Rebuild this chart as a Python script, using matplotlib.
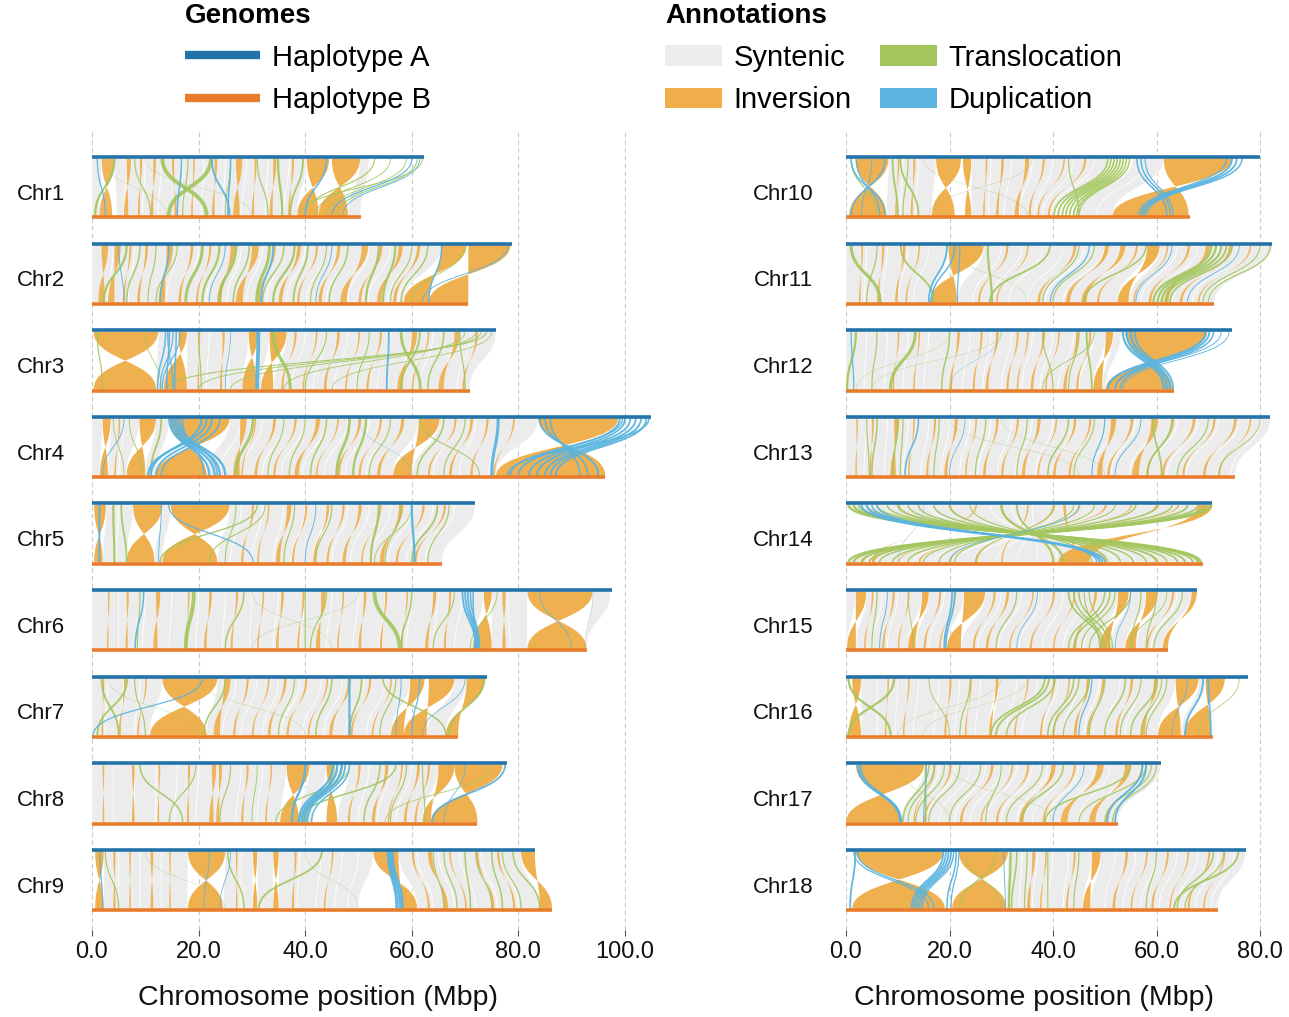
import matplotlib
matplotlib.use("Agg")
import matplotlib.pyplot as plt
from matplotlib.path import Path
from matplotlib.patches import PathPatch, Patch
from matplotlib.lines import Line2D

plt.rcParams['font.family'] = ['Liberation Sans', 'DejaVu Sans']

# ---------------- data (Mbp) ----------------
CHROMS = ["Chr1", "Chr2", "Chr3", "Chr4", "Chr5", "Chr6", "Chr7", "Chr8", "Chr9",
          "Chr10", "Chr11", "Chr12", "Chr13", "Chr14", "Chr15", "Chr16", "Chr17", "Chr18"]
LEN_A = [62.3, 78.8, 75.8, 104.8, 71.9, 97.5, 74.1, 77.9, 83.1,
         80.0, 82.4, 74.5, 82.0, 70.8, 67.8, 77.7, 60.9, 77.2]
LEN_B = [50.4, 70.6, 70.9, 96.3, 65.7, 92.8, 68.7, 72.3, 86.3,
         66.5, 71.2, 63.4, 75.2, 69.0, 62.2, 70.9, 52.6, 71.8]
LEFT_PANEL = CHROMS[:9]
RIGHT_PANEL = CHROMS[9:]
TICKS_LEFT = [0, 20, 40, 60, 80, 100]
TICKS_RIGHT = [0, 20, 40, 60, 80]

# syntenic anchor chains: (chrom, [(posA, posB), ...])
SYNTENY = [
    ("Chr1", [(0, 0), (1.8, 1.4)]),
    ("Chr1", [(4.2, 4.6), (6.5, 6.0), (10, 9.5), (13, 12.5), (17, 17), (21, 20.5), (25, 24.5),
              (29, 28), (33, 32.5), (37, 36), (40.3, 38.5)]),
    ("Chr1", [(50.3, 48), (52, 50.4)]),
    ("Chr2", [(0, 0), (4, 3), (8, 6.8), (12, 10.5), (16, 14), (20, 17.8), (24, 21.5), (28, 25.3),
              (32, 29), (36, 32.8), (40, 36.5), (44, 40.3), (48, 44), (52, 48), (56, 51.8),
              (60, 55.5), (63, 57.5), (65.6, 58.5)]),
    ("Chr3", [(12.4, 12.0), (16.2, 13.5)]),
    ("Chr3", [(17.8, 17.8), (22, 21.5), (26, 25.5), (29.4, 28.2)]),
    ("Chr3", [(31.2, 31), (33.3, 31.7)]),
    ("Chr3", [(36.5, 34), (40, 37.5), (44, 41.5), (48, 45.5), (52, 49.5), (56, 53.5), (60, 57.5),
              (64, 61.5), (68, 65.5), (71, 68.5), (75.8, 70.9)]),
    ("Chr4", [(0, 0), (2, 1.5)]),
    ("Chr4", [(3.5, 3), (6, 5), (8.9, 6.5)]),
    ("Chr4", [(12, 10), (14.5, 12)]),
    ("Chr4", [(25.8, 21.5), (28, 24), (32, 28), (36, 32), (40, 35.5), (44, 39.5), (48, 43.5),
              (52, 47.5), (56, 51.5), (61.3, 56.5)]),
    ("Chr4", [(65.2, 60), (68, 64), (72, 69), (76.2, 74.5), (83.7, 75.8)]),
    ("Chr5", [(2.6, 2.0), (5, 4.5), (7.7, 6.5)]),
    ("Chr5", [(13.2, 11.7), (14.8, 13.2)]),
    ("Chr5", [(25.8, 23.5), (28, 26), (32, 30), (36, 34), (40, 37.5), (44, 41.5), (48, 45),
              (52, 48.5), (56, 52), (60, 55.5), (64, 59), (68, 62.5), (71.9, 65.7)]),
    ("Chr6", [(0, 0), (5, 5), (10, 9.5), (15, 14.5), (20, 19.5), (25, 24.5), (30, 29.5), (35, 34),
              (40, 39), (45, 44), (50, 49), (55, 54), (60, 59), (65, 64), (69.5, 68), (73.5, 71.5)]),
    ("Chr6", [(75, 75), (78, 78.5), (81.7, 81.7)]),
    ("Chr6", [(93.9, 92.6), (97.3, 92.8)]),
    ("Chr7", [(0, 0), (3, 2.5), (6, 5), (9, 8), (13.2, 10.9)]),
    ("Chr7", [(23.5, 21.5), (27, 24.5), (31, 28), (35, 32), (39, 35.5), (43, 39.5), (47, 43.5),
              (51, 47.5), (55, 51.5), (59.7, 56.1)]),
    ("Chr7", [(68, 62.8), (70.3, 66.4)]),
    ("Chr8", [(0, 0), (4, 4), (8, 8), (12, 12), (16, 15.5), (20, 19.5), (24, 23.5), (28, 27),
              (32, 31), (36.5, 35.3)]),
    ("Chr8", [(40.8, 38.8), (44, 41.2)]),
    ("Chr8", [(48.3, 46), (52, 50), (56, 53.5), (60, 57), (65, 62)]),
    ("Chr9", [(2.2, 2.2), (5, 5), (9, 9), (13, 13), (18, 18)]),
    ("Chr9", [(25, 24.6), (28, 28), (30.2, 30.2)]),
    ("Chr9", [(31, 31), (34, 34)]),
    ("Chr9", [(35, 35), (39, 38.5), (43, 42), (47, 45.5), (50, 48), (52.8, 50)]),
    ("Chr9", [(57.5, 61), (61, 64), (65, 68), (69, 72), (73, 76), (77, 80), (80.5, 84)]),
    ("Chr10", [(8.2, 7.8), (11, 10.5), (14, 13.5), (17.4, 16.6)]),
    ("Chr10", [(24.2, 24.2), (28, 27.5), (32, 30.5), (36, 33.5), (40, 36.5), (44, 38),
               (48, 39.5), (50.6, 40.2)]),
    ("Chr10", [(55.4, 45), (58, 48.5), (61.4, 51.5)]),
    ("Chr11", [(0, 0), (4, 3.5), (8, 7), (12, 10), (16, 13), (19.8, 16.2)]),
    ("Chr11", [(26.6, 21.4), (30, 24.5), (34, 28), (38, 31.5), (42, 35), (46, 38.5), (50, 42),
               (54, 46), (58.2, 52.5)]),
    ("Chr11", [(60.6, 54.6), (64, 57), (68, 60), (72, 63), (76, 67), (80, 70), (82.4, 71.2)]),
    ("Chr12", [(0, 0), (4, 3.5), (8, 7.5), (12, 11), (16, 15), (20, 18.5), (24, 22.5), (28, 26.5),
               (32, 30), (36, 34), (40, 37.5), (44, 41), (48, 45), (50.2, 47.8)]),
    ("Chr12", [(51.6, 49.5), (53.2, 50.2)]),
    ("Chr13", [(0, 0), (4, 3.5), (8, 7.4), (12, 11), (16, 14.5), (20, 18.4), (24, 22), (28, 25.5),
               (32, 29.3), (36, 32.8), (40, 36.6), (44, 40.1), (48, 43.9), (52, 47.4), (56, 51.2),
               (60, 54.7), (64, 58.5), (68, 62), (72, 65.8), (76, 69.3), (80, 74.4), (82, 75.2)]),
    ("Chr14", [(0, 69), (4, 66.5), (8, 63.5), (12, 60), (16, 56), (20, 52), (24, 48.5), (28, 45),
               (32, 41), (36, 37), (40, 33), (44, 29), (48, 25), (52, 21), (56, 17), (60, 13),
               (64, 9), (68, 4), (70.8, 0)]),
    ("Chr15", [(0, 0), (1.9, 0.2)]),
    ("Chr15", [(3.9, 1.9), (7, 5), (10, 8), (14.7, 12)]),
    ("Chr15", [(16, 13.4), (19, 16), (22.8, 19.5)]),
    ("Chr15", [(26.9, 22.2), (30, 25.5), (34, 29.5), (38, 33.5), (42, 38), (46, 42), (50, 46),
               (52.6, 49)]),
    ("Chr15", [(54.6, 51), (58, 54)]),
    ("Chr15", [(60.3, 56), (64, 59), (66.8, 61.2)]),
    ("Chr16", [(2.9, 2.9), (6, 6), (10, 9.5), (14, 13), (18, 17), (22, 21), (26, 25), (28.9, 27.6)]),
    ("Chr16", [(29.5, 28.2), (33, 31), (37, 34), (41, 38), (45, 42), (49, 46), (53, 50), (57, 54),
               (61, 58), (63.7, 60.3)]),
    ("Chr16", [(68.1, 64.7), (69.5, 65.4)]),
    ("Chr17", [(15.1, 10.7), (18, 13), (21, 15.5), (24, 18), (27, 21), (30, 24), (33, 27), (36, 30),
               (39, 33), (42, 36), (45, 39), (48, 42), (51, 45), (54, 47.5), (57, 50), (60.9, 52.6)]),
    ("Chr18", [(31.3, 31), (34, 33.5), (37, 36), (40, 39), (43, 42), (47.5, 45.8)]),
    ("Chr18", [(49.2, 47.2), (52, 50), (56, 53.5), (60, 57), (64, 60.5), (68, 64), (72, 67.5),
               (75, 70.5), (77.2, 71.8)]),
]

# inversions: (chrom, startA, endA, startB, endB)
INVERSIONS = [
    ("Chr1", 40.3, 44.5, 38.5, 42.5), ("Chr1", 45.0, 50.3, 42.5, 48.0),
    ("Chr2", 65.6, 70.3, 58.5, 63.2), ("Chr2", 70.6, 78.5, 63.2, 70.6),
    ("Chr3", 0.3, 12.4, 0.3, 12.0), ("Chr3", 16.2, 17.8, 13.5, 17.8),
    ("Chr3", 29.4, 31.2, 28.2, 31.0), ("Chr3", 33.3, 36.5, 31.7, 34.0),
    ("Chr4", 2.0, 3.5, 1.5, 3.0), ("Chr4", 8.9, 12.0, 6.5, 10.0), ("Chr4", 14.5, 25.8, 12.0, 21.5),
    ("Chr4", 61.3, 65.2, 56.5, 60.0), ("Chr4", 83.7, 98.7, 75.8, 96.3),
    ("Chr5", 0.4, 2.6, 0.4, 2.0), ("Chr5", 7.7, 13.2, 6.5, 11.7), ("Chr5", 14.8, 25.8, 13.2, 23.5),
    ("Chr6", 73.5, 75.0, 71.5, 75.0), ("Chr6", 81.7, 93.9, 81.7, 92.8),
    ("Chr7", 13.2, 23.5, 10.9, 21.5), ("Chr7", 59.7, 62.4, 56.1, 58.5),
    ("Chr7", 63.2, 68.0, 58.5, 62.8), ("Chr7", 70.3, 73.8, 66.4, 68.7),
    ("Chr8", 36.5, 40.8, 35.3, 38.8), ("Chr8", 44.0, 45.2, 44.0, 46.0),
    ("Chr8", 65.0, 68.0, 62.0, 63.6), ("Chr8", 68.0, 77.0, 63.6, 72.3),
    ("Chr9", 0.6, 2.2, 0.6, 2.2), ("Chr9", 18.0, 25.0, 18.0, 24.6), ("Chr9", 30.2, 31.0, 30.2, 31.0),
    ("Chr9", 34.0, 35.0, 34.0, 35.0), ("Chr9", 52.8, 57.5, 58.0, 61.0), ("Chr9", 80.5, 83.1, 84.0, 86.3),
    ("Chr10", 1.8, 8.2, 0.6, 7.8), ("Chr10", 17.4, 22.2, 16.6, 21.0), ("Chr10", 22.6, 24.2, 23.0, 24.2),
    ("Chr10", 61.4, 74.6, 51.5, 66.2),
    ("Chr11", 19.8, 26.6, 16.2, 21.4), ("Chr11", 58.2, 60.6, 52.5, 54.6),
    ("Chr12", 50.2, 51.6, 47.8, 49.5), ("Chr12", 54.0, 69.8, 50.2, 63.0),
    ("Chr14", 68.0, 70.8, 41.0, 47.0),
    ("Chr15", 1.9, 3.9, 0.2, 1.9), ("Chr15", 14.7, 16.0, 12.0, 13.4), ("Chr15", 22.8, 26.9, 19.5, 22.2),
    ("Chr15", 52.6, 54.6, 49.0, 51.0), ("Chr15", 58.0, 60.3, 54.0, 56.0), ("Chr15", 66.8, 67.8, 61.2, 62.2),
    ("Chr16", 1.2, 2.9, 0.5, 2.9), ("Chr16", 63.7, 68.1, 60.3, 64.7), ("Chr16", 69.5, 73.2, 65.4, 70.5),
    ("Chr17", 1.9, 15.1, 0.0, 10.7),
    ("Chr18", 1.9, 18.8, 1.2, 19.1), ("Chr18", 21.8, 31.3, 20.5, 31.0), ("Chr18", 47.5, 49.2, 45.8, 47.2),
]

# small inversions: (chrom, posA, posB, width)
SMALL_INV = [
    ("Chr1", 1.8, 1.4, 2.4), ("Chr1", 6.5, 6.0, 0.8), ("Chr1", 9, 8.6, 0.4), ("Chr1", 11.5, 11, 0.5),
    ("Chr1", 15, 15.5, 0.4), ("Chr1", 19, 18.6, 0.3), ("Chr1", 23, 22.5, 0.5), ("Chr1", 27, 26.5, 1.2),
    ("Chr1", 30.5, 30, 0.4), ("Chr1", 34, 33.3, 0.6), ("Chr1", 37.5, 36.8, 0.4),
    ("Chr2", 1.8, 1.2, 1.2), ("Chr2", 4.2, 3.0, 1.2), ("Chr2", 7, 5.8, 0.4), ("Chr2", 10, 8.5, 0.5),
    ("Chr2", 14, 12.5, 1.2), ("Chr2", 18.5, 16.2, 0.5), ("Chr2", 22, 19.5, 0.4), ("Chr2", 26, 23.5, 0.8),
    ("Chr2", 30, 27, 1.3), ("Chr2", 34, 31, 0.5), ("Chr2", 38.5, 35, 0.7), ("Chr2", 42, 38.5, 0.4),
    ("Chr2", 46, 42.5, 0.6), ("Chr2", 50.6, 46.6, 1.2), ("Chr2", 54, 50, 0.5), ("Chr2", 57.5, 53.5, 0.8),
    ("Chr2", 61, 56.5, 0.6),
    ("Chr3", 20, 19.8, 0.3), ("Chr3", 24.5, 24, 0.4), ("Chr3", 38, 35.5, 0.4), ("Chr3", 42, 39.5, 0.3),
    ("Chr3", 46, 43.5, 0.5), ("Chr3", 50, 47.5, 0.3), ("Chr3", 54, 51.5, 0.4), ("Chr3", 60, 57.3, 1.0),
    ("Chr3", 63, 60, 0.3), ("Chr3", 68, 65, 1.0), ("Chr3", 72, 69.5, 0.4),
    ("Chr4", 5, 4.2, 0.3), ("Chr4", 27.8, 26.5, 1.2), ("Chr4", 30.5, 28, 0.3), ("Chr4", 34, 30.5, 0.5),
    ("Chr4", 38, 34, 0.4), ("Chr4", 42, 38, 0.8), ("Chr4", 46, 42, 0.3), ("Chr4", 50, 46, 0.5),
    ("Chr4", 54, 50, 0.4), ("Chr4", 58, 53.5, 0.6), ("Chr4", 68, 63, 0.4), ("Chr4", 71, 67, 0.5),
    ("Chr4", 74, 71, 0.4), ("Chr4", 79, 75.3, 0.3),
    ("Chr5", 30, 28, 0.4), ("Chr5", 33, 31, 0.3), ("Chr5", 36.6, 34.5, 0.8), ("Chr5", 40, 37.5, 0.4),
    ("Chr5", 44, 41.5, 0.5), ("Chr5", 47, 44, 0.4), ("Chr5", 50, 47, 0.6), ("Chr5", 54, 50.5, 0.3),
    ("Chr5", 57.6, 54, 0.8), ("Chr5", 62, 57, 0.4), ("Chr5", 66, 60.5, 0.4),
    ("Chr6", 3, 2.8, 0.3), ("Chr6", 6.5, 6.3, 0.4), ("Chr6", 12, 11.5, 0.8), ("Chr6", 18, 17.5, 0.3),
    ("Chr6", 22, 21, 0.5), ("Chr6", 27, 26, 0.4), ("Chr6", 32, 31, 0.3), ("Chr6", 35.5, 34.5, 0.5),
    ("Chr6", 39.5, 38.5, 0.4), ("Chr6", 43, 42, 0.8), ("Chr6", 47, 46, 0.3), ("Chr6", 51, 50, 0.5),
    ("Chr6", 55, 54, 0.4), ("Chr6", 59, 58, 0.3), ("Chr6", 64, 62.5, 0.6), ("Chr6", 67, 66, 0.4),
    ("Chr6", 77, 77, 0.6),
    ("Chr7", 24.8, 22.8, 1.2), ("Chr7", 29, 26.5, 0.4), ("Chr7", 33, 30, 0.3), ("Chr7", 36, 33, 0.5),
    ("Chr7", 40, 36.5, 0.4), ("Chr7", 44, 40.5, 0.3), ("Chr7", 48, 44.5, 0.6), ("Chr7", 52, 48.5, 0.4),
    ("Chr7", 56, 52.5, 0.3), ("Chr7", 2, 1.8, 0.3), ("Chr7", 6, 5, 0.4), ("Chr7", 10, 8.5, 0.3),
    ("Chr8", 2, 2, 0.3), ("Chr8", 7.5, 7.5, 0.5), ("Chr8", 12.5, 12.3, 0.3), ("Chr8", 18, 17.8, 0.4),
    ("Chr8", 22.5, 22, 0.8), ("Chr8", 23.8, 23.3, 0.6), ("Chr8", 29, 28, 0.4), ("Chr8", 33.5, 32.5, 0.3),
    ("Chr8", 50, 48, 0.4), ("Chr8", 55, 52.5, 0.6), ("Chr8", 58, 55.5, 0.3), ("Chr8", 61, 58.5, 0.5),
    ("Chr8", 63, 60.5, 0.4),
    ("Chr9", 4, 4, 0.4), ("Chr9", 7, 7, 0.3), ("Chr9", 11, 11, 0.5), ("Chr9", 14.5, 14.5, 0.3),
    ("Chr9", 27, 27, 0.3), ("Chr9", 38, 37.5, 0.4), ("Chr9", 45, 43.5, 0.3), ("Chr9", 60, 63, 0.4),
    ("Chr9", 63, 66, 0.8), ("Chr9", 67, 70, 0.3), ("Chr9", 72, 75, 0.5), ("Chr9", 76, 79, 0.4),
    ("Chr10", 10, 9.5, 0.3), ("Chr10", 13, 12.5, 0.4), ("Chr10", 27, 26.5, 0.3), ("Chr10", 30, 29, 0.5),
    ("Chr10", 34.6, 32.6, 0.8), ("Chr10", 38, 35.3, 0.4), ("Chr10", 42, 37, 0.3), ("Chr10", 46, 39, 0.4),
    ("Chr11", 3, 2.5, 0.3), ("Chr11", 7, 6, 0.4), ("Chr11", 11, 9.5, 0.5), ("Chr11", 14, 11.5, 0.3),
    ("Chr11", 31, 25.5, 0.4), ("Chr11", 35, 29, 0.3), ("Chr11", 44, 37, 0.5), ("Chr11", 50, 42.5, 0.8),
    ("Chr11", 53, 45.5, 1.0), ("Chr11", 56, 48.5, 0.4), ("Chr11", 62, 55.5, 0.3), ("Chr11", 66, 58.5, 0.5),
    ("Chr11", 69.5, 61.5, 0.8), ("Chr11", 74, 64.5, 0.5), ("Chr11", 78, 68, 0.3),
    ("Chr12", 21.5, 20, 0.5), ("Chr12", 26, 24.5, 0.4), ("Chr12", 29, 27, 0.5), ("Chr12", 33, 31, 0.4),
    ("Chr12", 35, 33, 0.3), ("Chr12", 38, 35.7, 0.5), ("Chr12", 41, 38.5, 0.3), ("Chr12", 44.5, 42, 0.6),
    ("Chr12", 47, 44.5, 0.4), ("Chr12", 10, 9, 0.3), ("Chr12", 14, 13, 0.3),
    ("Chr13", 2, 1.8, 0.3), ("Chr13", 5, 4.5, 0.4), ("Chr13", 9.3, 8.6, 1.0), ("Chr13", 13, 12, 0.3),
    ("Chr13", 17, 15.5, 0.4), ("Chr13", 21, 19, 0.6), ("Chr13", 25, 23, 0.3), ("Chr13", 29, 26.5, 0.5),
    ("Chr13", 33, 30, 0.4), ("Chr13", 37, 34, 0.6), ("Chr13", 40.5, 37, 0.3), ("Chr13", 44, 40, 0.5),
    ("Chr13", 47, 43, 0.4), ("Chr13", 51.2, 48.5, 1.0), ("Chr13", 55, 50.5, 0.5), ("Chr13", 59, 55.3, 1.3),
    ("Chr13", 63, 58, 0.4), ("Chr13", 67, 61, 0.5), ("Chr13", 71, 65, 0.4), ("Chr13", 75, 69, 0.5),
    ("Chr13", 78, 72, 0.3),
    ("Chr14", 30, 40, 0.3), ("Chr14", 35, 30, 0.3), ("Chr14", 40, 25, 0.4), ("Chr14", 45, 20, 0.3),
    ("Chr14", 50, 14, 0.4), ("Chr14", 55, 10, 0.3), ("Chr14", 25, 5, 0.3), ("Chr14", 20, 50, 0.3),
    ("Chr14", 10, 60, 0.4), ("Chr14", 60, 5, 0.5), ("Chr14", 64, 3, 0.4), ("Chr14", 42, 44, 0.5),
    ("Chr15", 5, 3.5, 0.3), ("Chr15", 9, 7, 0.4), ("Chr15", 12, 10, 0.3), ("Chr15", 18, 15, 0.4),
    ("Chr15", 21, 18, 0.3), ("Chr15", 28.5, 24.5, 0.4), ("Chr15", 31, 27, 0.5), ("Chr15", 36, 31.5, 0.3),
    ("Chr15", 40, 35.5, 0.4), ("Chr15", 44, 40, 0.3), ("Chr15", 48, 44, 0.5), ("Chr15", 63, 58, 0.4),
    ("Chr16", 28.9, 27.6, 0.6), ("Chr16", 46.5, 44, 0.6), ("Chr16", 49.5, 46.5, 0.4), ("Chr16", 55, 52, 0.5),
    ("Chr16", 59.5, 57, 0.8), ("Chr16", 8, 7.5, 0.3), ("Chr16", 12, 11, 0.3), ("Chr16", 20, 19, 0.4),
    ("Chr16", 24, 23, 0.3), ("Chr16", 35, 32.5, 0.3), ("Chr16", 40, 37.5, 0.4), ("Chr16", 43, 40, 0.3),
    ("Chr17", 17, 13, 0.3), ("Chr17", 20, 15, 0.4), ("Chr17", 28, 22, 0.5), ("Chr17", 32, 26, 0.3),
    ("Chr17", 35, 29, 0.4), ("Chr17", 39.7, 33.5, 0.8), ("Chr17", 44, 38, 0.4), ("Chr17", 48.5, 41.5, 1.3),
    ("Chr17", 53.9, 47, 1.2), ("Chr17", 57, 50, 0.4),
    ("Chr18", 36, 35, 0.6), ("Chr18", 38.5, 37.5, 0.3), ("Chr18", 44, 42.5, 0.4), ("Chr18", 54, 51.5, 0.5),
    ("Chr18", 58, 55, 0.3), ("Chr18", 62, 59, 0.4), ("Chr18", 66, 62.5, 0.3), ("Chr18", 70, 66, 0.4),
    ("Chr18", 73, 69, 0.3),
]

# translocations: (chrom, posA, posB, weight)
TRANSLOCATIONS = [
    ("Chr1", 4.2, 0.6, 1.5), ("Chr1", 13.2, 21.5, 2.5), ("Chr1", 22.3, 14.4, 2.5), ("Chr1", 8, 11, 0.8),
    ("Chr1", 18, 17, 0.8), ("Chr1", 26, 25, 0.7), ("Chr1", 34.9, 35.7, 1.5), ("Chr1", 39.6, 37.2, 1.2),
    ("Chr1", 31, 33, 0.8), ("Chr1", 53, 40, 0.8), ("Chr1", 56, 42, 0.6), ("Chr1", 59, 44, 0.6),
    ("Chr1", 61, 46, 0.7), ("Chr1", 62, 39, 0.6), ("Chr1", 2, 14, 0.4), ("Chr1", 10, 30, 0.4),
    ("Chr2", 6.5, 2.2, 1.5), ("Chr2", 9, 6.5, 1.0), ("Chr2", 12, 10.5, 0.8), ("Chr2", 20.7, 17.6, 2.0),
    ("Chr2", 23.9, 20.7, 1.5), ("Chr2", 27, 23.9, 1.8), ("Chr2", 29.5, 26.5, 1.0), ("Chr2", 33.3, 30.9, 2.0),
    ("Chr2", 36, 32, 1.0), ("Chr2", 38, 34, 1.5), ("Chr2", 40.5, 37.8, 1.2), ("Chr2", 44, 41, 0.8),
    ("Chr2", 48, 44.5, 1.0), ("Chr2", 53.8, 51.4, 1.5), ("Chr2", 56.9, 54.6, 1.5), ("Chr2", 60, 56, 0.8),
    ("Chr2", 63, 58, 1.0), ("Chr2", 70, 60, 0.6), ("Chr2", 16, 12, 0.8),
    ("Chr3", 34, 37.2, 2.0), ("Chr3", 58, 61.6, 1.8), ("Chr3", 61.5, 58, 1.2), ("Chr3", 74, 14, 0.7),
    ("Chr3", 73, 20, 0.6), ("Chr3", 72, 26, 0.6), ("Chr3", 70, 36, 0.6), ("Chr3", 75, 45, 0.5),
    ("Chr3", 44, 40, 0.8), ("Chr3", 52, 49.7, 0.8), ("Chr3", 66, 63, 1.0), ("Chr3", 20, 20.5, 0.8),
    ("Chr3", 10, 13, 0.5), ("Chr3", 1, 2, 0.8), ("Chr3", 69, 70, 0.8),
    ("Chr4", 30.2, 27, 1.8), ("Chr4", 48.3, 45.9, 1.8), ("Chr4", 51.4, 49, 1.5), ("Chr4", 36, 33, 0.8),
    ("Chr4", 40, 37, 0.8), ("Chr4", 44, 41, 1.0), ("Chr4", 56, 52, 0.8), ("Chr4", 61.5, 72.7, 0.7),
    ("Chr4", 66, 61, 1.0), ("Chr4", 70, 66, 0.8), ("Chr4", 4, 6, 0.6), ("Chr4", 7, 9.5, 0.6),
    ("Chr4", 13, 11, 1.2),
    ("Chr5", 4, 4.2, 1.5), ("Chr5", 5.5, 6.5, 1.2), ("Chr5", 31, 12.8, 0.9), ("Chr5", 32.5, 22, 0.7),
    ("Chr5", 53.8, 52.3, 1.5), ("Chr5", 64.8, 60, 1.2), ("Chr5", 38, 36, 0.8), ("Chr5", 45, 42, 0.8),
    ("Chr5", 58, 55, 0.8), ("Chr5", 60, 53, 0.6), ("Chr5", 27, 25, 0.7), ("Chr5", 67, 63, 0.8),
    ("Chr6", 19.1, 17.6, 2.5), ("Chr6", 53, 57.7, 2.5), ("Chr6", 9, 8.5, 0.8), ("Chr6", 28.5, 25, 1.0),
    ("Chr6", 40, 40, 0.8), ("Chr6", 44, 41, 0.8), ("Chr6", 60, 58, 1.0), ("Chr6", 68, 64, 0.8),
    ("Chr6", 30, 45, 0.4), ("Chr6", 50, 30, 0.4), ("Chr6", 76, 71, 0.6),
    ("Chr7", 1.8, 5, 1.2), ("Chr7", 6.6, 1.0, 1.2), ("Chr7", 8, 10, 0.8), ("Chr7", 25, 21, 1.0),
    ("Chr7", 38, 35, 0.8), ("Chr7", 50.6, 48.3, 1.2), ("Chr7", 54.6, 66.4, 1.0), ("Chr7", 73.5, 67, 1.2),
    ("Chr7", 45, 42, 1.0), ("Chr7", 57, 54, 0.8), ("Chr7", 3, 20, 0.4), ("Chr7", 20, 40, 0.4),
    ("Chr8", 57, 38.8, 1.0), ("Chr8", 48.3, 34.5, 0.8), ("Chr8", 9, 17, 1.0), ("Chr8", 19.5, 14.5, 0.8),
    ("Chr8", 26, 24, 0.8), ("Chr8", 31, 30, 0.6), ("Chr8", 46, 40, 1.0), ("Chr8", 47, 39.5, 1.0),
    ("Chr8", 45.5, 40.5, 0.8), ("Chr8", 54, 51, 1.0), ("Chr8", 59, 56, 0.8), ("Chr8", 75, 55, 0.5),
    ("Chr8", 62, 62.5, 0.8),
    ("Chr9", 43.1, 31.3, 1.2), ("Chr9", 25.5, 28.5, 1.0), ("Chr9", 2.5, 5, 0.8), ("Chr9", 64, 66, 0.8),
    ("Chr9", 70, 71, 1.0), ("Chr9", 72, 75, 0.8), ("Chr9", 75, 77, 1.0), ("Chr9", 77, 80.5, 0.8),
    ("Chr9", 79, 84, 1.0), ("Chr9", 10, 25, 0.4), ("Chr9", 40, 50, 0.4), ("Chr9", 66, 68.5, 0.8),
    ("Chr10", 50.6, 40.2, 1.2), ("Chr10", 51.2, 41, 1.2), ("Chr10", 51.8, 41.8, 1.2), ("Chr10", 52.4, 42.5, 1.2),
    ("Chr10", 53, 43.2, 1.2), ("Chr10", 53.6, 44, 1.2), ("Chr10", 54.2, 44.6, 1.0), ("Chr10", 54.8, 45, 1.0),
    ("Chr10", 9, 10, 1.2), ("Chr10", 10.5, 14, 1.2), ("Chr10", 12, 11, 0.8), ("Chr10", 1, 6, 0.8),
    ("Chr10", 43, 45, 0.8), ("Chr10", 15, 35, 0.4), ("Chr10", 36, 16, 0.4),
    ("Chr11", 1, 6.6, 2.0), ("Chr11", 10.6, 17, 1.2), ("Chr11", 27.4, 28.2, 1.5), ("Chr11", 39.4, 27.8, 1.2),
    ("Chr11", 58, 46, 1.0), ("Chr11", 70.6, 59.4, 1.5), ("Chr11", 71.5, 60.2, 1.5), ("Chr11", 72.5, 61, 1.5),
    ("Chr11", 73.5, 61.8, 1.2), ("Chr11", 74.6, 62.6, 1.2), ("Chr11", 82, 70, 0.8), ("Chr11", 80, 69, 0.8),
    ("Chr11", 45, 38, 0.8), ("Chr11", 48, 40, 0.8), ("Chr11", 20, 35, 0.4), ("Chr11", 6, 4, 0.8),
    ("Chr12", 1.9, 0.2, 1.5), ("Chr12", 13.4, 8.6, 2.0), ("Chr12", 20, 18.5, 1.0), ("Chr12", 46.5, 47.5, 1.2),
    ("Chr12", 38, 40, 0.8), ("Chr12", 45, 43, 0.8), ("Chr12", 20, 2, 0.4), ("Chr12", 30, 5, 0.4),
    ("Chr12", 6, 5, 0.8), ("Chr12", 48, 38, 0.6),
    ("Chr13", 4, 4.5, 0.8), ("Chr13", 6, 5, 1.0), ("Chr13", 10, 9, 1.0), ("Chr13", 11, 10.5, 0.8),
    ("Chr13", 18, 17, 0.8), ("Chr13", 27, 25, 0.8), ("Chr13", 35, 33, 0.8), ("Chr13", 43, 39, 1.0),
    ("Chr13", 48, 44, 0.8), ("Chr13", 59.3, 61, 1.2), ("Chr13", 63, 58.3, 1.2), ("Chr13", 70, 64, 0.8),
    ("Chr13", 80, 72, 0.6), ("Chr13", 30, 50, 0.4), ("Chr13", 20, 45, 0.4),
    ("Chr14", 0.5, 68.5, 1.5), ("Chr14", 1.5, 68, 1.5), ("Chr14", 2.5, 67, 1.2), ("Chr14", 4, 65.5, 1.2),
    ("Chr14", 6, 64, 1.2), ("Chr14", 8, 62, 1.0), ("Chr14", 10, 60, 1.2), ("Chr14", 12, 58, 1.0),
    ("Chr14", 14, 55.5, 1.0), ("Chr14", 17, 53, 1.0), ("Chr14", 20, 50.5, 1.0), ("Chr14", 24, 47.5, 0.8),
    ("Chr14", 70.5, 0.5, 1.5), ("Chr14", 69.5, 1.5, 1.5), ("Chr14", 68, 3, 1.2), ("Chr14", 66, 4.5, 1.2),
    ("Chr14", 63, 6.5, 1.0), ("Chr14", 60, 9, 1.0), ("Chr14", 56, 12, 1.0), ("Chr14", 52, 15, 0.8),
    ("Chr14", 48, 18, 0.8), ("Chr14", 44, 21, 0.8), ("Chr14", 40, 25, 0.6), ("Chr14", 30, 42, 1.5),
    ("Chr14", 33, 40, 1.2),
    ("Chr15", 43, 49.5, 1.2), ("Chr15", 44, 50, 1.0), ("Chr15", 45, 51, 1.0), ("Chr15", 46, 49, 0.8),
    ("Chr15", 47, 51.5, 0.8), ("Chr15", 50, 43, 1.0), ("Chr15", 51, 44, 1.0), ("Chr15", 52, 45.5, 0.8),
    ("Chr15", 55, 47, 0.8), ("Chr15", 6, 5, 0.8), ("Chr15", 12, 13, 0.6), ("Chr15", 33, 29, 0.8),
    ("Chr15", 57, 55, 0.8), ("Chr15", 60, 58, 0.8), ("Chr15", 62, 55, 0.6), ("Chr15", 65, 59.5, 0.8),
    ("Chr16", 9.3, 0.5, 1.5), ("Chr16", 0.5, 8.6, 1.5), ("Chr16", 38.4, 28, 1.2), ("Chr16", 39.2, 29, 1.2),
    ("Chr16", 40.4, 31, 1.0), ("Chr16", 44, 39, 1.0), ("Chr16", 45, 40, 1.0), ("Chr16", 47, 42, 0.8),
    ("Chr16", 50, 47, 1.0), ("Chr16", 54, 50, 1.0), ("Chr16", 57, 53, 0.8), ("Chr16", 60, 55, 1.0),
    ("Chr16", 61, 57, 0.8), ("Chr16", 62, 58, 0.8), ("Chr16", 16, 20, 0.6), ("Chr16", 24, 22, 0.8),
    ("Chr16", 30, 10, 0.4), ("Chr16", 35, 15, 0.4), ("Chr16", 76, 68, 0.5),
    ("Chr17", 15.4, 15.4, 1.2), ("Chr17", 16, 11, 1.0), ("Chr17", 17, 12, 0.8), ("Chr17", 19, 13.5, 0.8),
    ("Chr17", 22, 16, 0.8), ("Chr17", 26, 20, 0.8), ("Chr17", 30, 27, 0.8), ("Chr17", 38, 31, 0.8),
    ("Chr17", 42, 34, 1.0), ("Chr17", 55, 38.5, 1.0), ("Chr17", 58, 45, 0.8), ("Chr17", 59, 50, 0.8),
    ("Chr17", 60, 51.5, 0.8), ("Chr17", 20, 40, 0.4), ("Chr17", 10, 20, 0.4),
    ("Chr18", 31.8, 31.5, 1.5), ("Chr18", 33, 32, 1.0), ("Chr18", 35, 34.5, 0.8), ("Chr18", 39, 39, 0.8),
    ("Chr18", 75.8, 63.4, 1.2), ("Chr18", 71, 64, 1.0), ("Chr18", 73, 65.5, 0.8), ("Chr18", 60, 58, 0.8),
    ("Chr18", 45, 44, 0.8), ("Chr18", 23, 30, 0.6), ("Chr18", 29, 22, 0.8),
]

# duplications: (chrom, posA, posB, weight)
DUPLICATIONS = [
    ("Chr1", 1, 2.5, 0.8), ("Chr1", 16.8, 16, 1.0), ("Chr1", 22.5, 25.8, 1.2), ("Chr1", 26, 25.5, 1.0),
    ("Chr1", 44, 40, 1.0), ("Chr1", 60, 45, 0.8), ("Chr1", 61.5, 47, 0.6),
    ("Chr2", 14.4, 12.8, 1.0), ("Chr2", 34, 31.7, 1.2), ("Chr2", 45, 42, 0.6), ("Chr2", 65.6, 63.2, 1.0),
    ("Chr2", 78, 62, 0.6), ("Chr2", 5, 6, 0.6), ("Chr2", 25, 22, 0.6),
    ("Chr3", 13.8, 12.3, 1.0), ("Chr3", 14.5, 14.0, 1.0), ("Chr3", 15.2, 12.8, 0.8), ("Chr3", 15.8, 15.5, 1.0),
    ("Chr3", 14.2, 15.2, 0.8), ("Chr3", 31.2, 31, 2.5), ("Chr3", 55.7, 55.3, 1.2), ("Chr3", 16.5, 13.2, 0.8),
    ("Chr3", 26, 25, 0.5),
    ("Chr4", 14.5, 22, 1.5), ("Chr4", 15, 23, 1.5), ("Chr4", 15.5, 24, 1.5), ("Chr4", 16, 25, 1.5),
    ("Chr4", 16.5, 23.5, 1.0), ("Chr4", 17, 21, 1.0), ("Chr4", 20.5, 11, 1.5), ("Chr4", 21.5, 10.5, 1.2),
    ("Chr4", 22.5, 12, 1.2), ("Chr4", 24, 13, 1.0), ("Chr4", 76.2, 75, 2.0), ("Chr4", 99, 80, 1.2),
    ("Chr4", 100, 82, 1.2), ("Chr4", 101, 83.5, 1.2), ("Chr4", 102, 85, 1.2), ("Chr4", 103, 86, 1.2),
    ("Chr4", 104, 87, 1.2), ("Chr4", 104.5, 78, 1.0), ("Chr4", 99.5, 78.5, 1.0), ("Chr4", 84, 95, 1.2),
    ("Chr4", 85, 93, 1.0), ("Chr4", 86, 91.5, 1.0), ("Chr4", 6, 2, 0.6), ("Chr4", 50, 60, 0.4),
    ("Chr5", 1.4, 1.4, 1.2), ("Chr5", 14.4, 30.2, 0.8), ("Chr5", 60, 60.5, 1.5), ("Chr5", 42, 40, 0.6),
    ("Chr5", 13, 12.5, 0.6),
    ("Chr6", 9.7, 8.1, 1.0), ("Chr6", 69.5, 72, 1.2), ("Chr6", 70, 72.3, 1.2), ("Chr6", 70.5, 72.5, 1.2),
    ("Chr6", 71, 72.7, 1.0), ("Chr6", 71.5, 71.8, 1.0), ("Chr6", 84, 90, 0.5), ("Chr6", 94, 92.5, 0.4),
    ("Chr7", 20.7, 0.2, 0.8), ("Chr7", 48.3, 48.3, 1.5), ("Chr7", 61.5, 60, 0.8), ("Chr7", 58, 57, 0.6),
    ("Chr7", 70, 62, 0.5),
    ("Chr8", 45.2, 38.8, 1.5), ("Chr8", 46, 39.3, 1.5), ("Chr8", 46.8, 39.8, 1.5), ("Chr8", 47.5, 40.3, 1.2),
    ("Chr8", 48.3, 41.2, 1.0), ("Chr8", 40, 37.5, 1.5), ("Chr8", 77.5, 63.8, 1.2), ("Chr8", 70, 66, 0.5),
    ("Chr9", 55.6, 57.2, 2.0), ("Chr9", 56, 57.8, 2.0), ("Chr9", 56.4, 58.3, 1.5), ("Chr9", 1.5, 2, 0.8),
    ("Chr9", 22, 21, 0.5), ("Chr9", 26, 24, 0.5),
    ("Chr10", 1, 7.5, 1.0), ("Chr10", 7.5, 1.0, 1.0), ("Chr10", 2, 6.5, 0.8), ("Chr10", 56.2, 62, 1.0),
    ("Chr10", 57, 62.7, 1.0), ("Chr10", 57.8, 63.2, 0.8), ("Chr10", 74.6, 57, 1.2), ("Chr10", 75.5, 57.5, 1.2),
    ("Chr10", 76.5, 58, 1.0), ("Chr10", 73.5, 56.5, 0.8), ("Chr10", 5, 3, 0.6),
    ("Chr11", 19.5, 16, 1.2), ("Chr11", 21, 16.5, 1.0), ("Chr11", 22, 21.5, 0.8), ("Chr11", 47, 39.5, 0.8),
    ("Chr11", 63, 56, 0.6), ("Chr11", 76, 66, 0.6),
    ("Chr12", 53.5, 61.4, 1.5), ("Chr12", 54.2, 62, 1.5), ("Chr12", 55, 62.6, 1.5), ("Chr12", 55.8, 63.2, 1.2),
    ("Chr12", 69.5, 50.6, 1.5), ("Chr12", 70.2, 52, 1.2), ("Chr12", 71, 53, 1.0), ("Chr12", 72.5, 52, 0.6),
    ("Chr12", 74, 53.5, 0.6), ("Chr12", 1, 1.5, 0.8), ("Chr12", 30, 20, 0.4),
    ("Chr13", 14, 11.4, 1.0), ("Chr13", 50, 47.5, 0.8), ("Chr13", 57, 52, 0.6), ("Chr13", 23, 20, 0.5),
    ("Chr14", 3, 49, 1.2), ("Chr14", 4, 49.5, 1.2), ("Chr14", 5, 50, 1.0), ("Chr14", 6, 48.5, 0.8),
    ("Chr14", 45, 20, 0.5), ("Chr14", 15, 10, 0.4),
    ("Chr15", 20.5, 19, 1.2), ("Chr15", 21, 19.3, 1.0), ("Chr15", 8, 6.5, 0.6), ("Chr15", 37, 33, 0.5),
    ("Chr15", 55, 52, 0.5),
    ("Chr16", 69, 65.5, 1.2), ("Chr16", 70, 70.5, 1.2), ("Chr16", 47.5, 45, 0.8), ("Chr16", 66, 63, 0.5),
    ("Chr17", 2.3, 10.5, 1.5), ("Chr17", 2.8, 10.7, 1.2), ("Chr17", 57.3, 50.5, 1.2), ("Chr17", 58, 52, 1.2),
    ("Chr17", 46, 40, 0.6), ("Chr17", 15.5, 15, 0.6),
    ("Chr18", 18.8, 12.7, 1.2), ("Chr18", 19.3, 13.2, 1.2), ("Chr18", 19.8, 13.7, 1.2), ("Chr18", 20.3, 14.2, 1.2),
    ("Chr18", 20.8, 14.7, 1.0), ("Chr18", 21.3, 19.5, 1.0), ("Chr18", 21.8, 20.3, 0.8), ("Chr18", 1.8, 0.8, 1.2),
    ("Chr18", 1.5, 16, 0.8), ("Chr18", 2.2, 17, 0.8), ("Chr18", 30.5, 30.8, 0.6),
]

# ---------------- style ----------------
C_HAPA = "#2372aa"
C_HAPB = "#e97c2b"
C_SYN = "#ececec"
C_INV = "#efae4a"
C_TRA = "#a3c65e"
C_DUP = "#5ab4df"

W, H = 1289, 1017
fig = plt.figure(figsize=(W / 100, H / 100), dpi=100)

ROW_TOP0 = 157.0   # pixel row of first chromosome (layout)
ROW_STEP = 86.6
ROW_H = 60.5
AX_TOP, AX_BOT = 130.0, 930.0

def fx(px):
    return px / W

def fy(py):
    return 1 - py / H

# axes placement: left panel 0 Mbp at 92 px, 5.33 px/Mbp ; right 0 at 846 px, 5.175 px/Mbp
L_X0, L_S = 92.0, 5.33
R_X0, R_S = 846.0, 5.175
L_LIM = (-1.0, 106.0)
R_LIM = (-1.0, 84.0)

def make_axes(x0, s, lim):
    left = x0 + lim[0] * s
    right = x0 + lim[1] * s
    ax = fig.add_axes([fx(left), fy(AX_BOT), fx(right - left), (AX_BOT - AX_TOP) / H])
    ax.set_xlim(*lim)
    ax.set_ylim(AX_BOT, AX_TOP)
    return ax, left, right

ax_l, l_left, l_right = make_axes(L_X0, L_S, L_LIM)
ax_r, r_left, r_right = make_axes(R_X0, R_S, R_LIM)

M, L4, C4, CL = Path.MOVETO, Path.LINETO, Path.CURVE4, Path.CLOSEPOLY

def ribbon(ax, a0, a1, b0, b1, yt, yb, color, inverted=False, z=1, ec="none", lw=0.0, alpha=1.0):
    ym = (yt + yb) / 2
    if not inverted:
        verts = [(a0, yt), (a1, yt), (a1, ym), (b1, ym), (b1, yb), (b0, yb), (b0, ym), (a0, ym), (a0, yt), (a0, yt)]
    else:
        verts = [(a0, yt), (a1, yt), (a1, ym), (b0, ym), (b0, yb), (b1, yb), (b1, ym), (a0, ym), (a0, yt), (a0, yt)]
    codes = [M, L4, C4, C4, C4, L4, C4, C4, C4, CL]
    ax.add_patch(PathPatch(Path(verts, codes), facecolor=color, edgecolor=ec, lw=lw,
                           zorder=z, alpha=alpha))

def link(ax, a, b, yt, yb, color, lw, z, alpha=0.9):
    ym = (yt + yb) / 2
    p = Path([(a, yt), (a, ym), (b, ym), (b, yb)], [M, C4, C4, C4])
    ax.add_patch(PathPatch(p, facecolor="none", edgecolor=color, lw=lw, zorder=z,
                           alpha=alpha, capstyle="butt"))

def panel_of(name):
    if name in LEFT_PANEL:
        return ax_l, LEFT_PANEL.index(name)
    return ax_r, RIGHT_PANEL.index(name)

def rows(name):
    ax, i = panel_of(name)
    yt = ROW_TOP0 + i * ROW_STEP
    return ax, yt + 1.5, yt + ROW_H - 1.5

# syntenic ribbons
for name, chain in SYNTENY:
    ax, yt, yb = rows(name)
    for (a0, b0), (a1, b1) in zip(chain[:-1], chain[1:]):
        ribbon(ax, a0, a1, b0, b1, yt, yb, C_SYN, z=1, ec="white", lw=0.5)

# small inversions
for name, a, b, w in SMALL_INV:
    ax, yt, yb = rows(name)
    ribbon(ax, a, a + w, b, b + w, yt, yb, C_INV, inverted=True, z=2, alpha=0.9)

# large inversions
for name, a0, a1, b0, b1 in INVERSIONS:
    ax, yt, yb = rows(name)
    ribbon(ax, a0, a1, b0, b1, yt, yb, C_INV, inverted=True, z=3, alpha=0.97)

# translocations
for name, a, b, w in TRANSLOCATIONS:
    ax, yt, yb = rows(name)
    link(ax, a, b, yt, yb, C_TRA, w * 1.1, 4, alpha=0.45 if w < 0.5 else 0.9)

# duplications
for name, a, b, w in DUPLICATIONS:
    ax, yt, yb = rows(name)
    link(ax, a, b, yt, yb, C_DUP, w * 1.1, 5, alpha=0.5 if w < 0.5 else 0.95)

# chromosome bars and labels
for name, la, lb in zip(CHROMS, LEN_A, LEN_B):
    ax, i = panel_of(name)
    yt = ROW_TOP0 + i * ROW_STEP
    yb = yt + ROW_H
    ax.plot([0, la], [yt, yt], color=C_HAPA, lw=2.6, solid_capstyle="butt", zorder=6)
    ax.plot([0, lb], [yb, yb], color=C_HAPB, lw=2.6, solid_capstyle="butt", zorder=6)
    off = -27 if ax is ax_l else -33
    ax.annotate(name, xy=(0, (yt + yb) / 2 + 7), xycoords="data", xytext=(off, 0),
                textcoords="offset pixels", ha="right", va="center", fontsize=16,
                color="#111111", annotation_clip=False)

for ax, ticks, lo, hi, cx in ((ax_l, TICKS_LEFT, l_left, l_right, 318.0),
                              (ax_r, TICKS_RIGHT, r_left, r_right, 1034.0)):
    ax.set_xticks(ticks)
    ax.set_xticklabels([f"{t:.1f}" for t in ticks])
    ax.set_yticks([])
    for sp in ax.spines.values():
        sp.set_visible(False)
    ax.tick_params(axis="x", length=4, width=0.8, color="#555555", labelsize=17, pad=4,
                   labelcolor="#111111")
    ax.grid(axis="x", color="#c8c8c8", linestyle=(0, (4, 3)), linewidth=0.8, zorder=0)
    ax.set_axisbelow(True)
    ax.set_xlabel("Chromosome position (Mbp)", fontsize=20.5, labelpad=16, color="#111111")
    ax.xaxis.label.set_x((cx - lo) / (hi - lo))

# legends
g_handles = [Line2D([], [], color=C_HAPA, lw=6, solid_capstyle="butt"),
             Line2D([], [], color=C_HAPB, lw=6, solid_capstyle="butt")]
leg1 = fig.legend(g_handles, ["Haplotype A", "Haplotype B"], title="Genomes",
                  loc="upper left", bbox_to_anchor=(fx(185), fy(3)), frameon=False,
                  fontsize=21, title_fontproperties={"weight": "bold", "size": 20},
                  alignment="left", handlelength=2.57, handletextpad=0.41,
                  labelspacing=0.5, borderpad=0, borderaxespad=0)
a_handles = [Patch(facecolor=C_SYN, edgecolor="none"), Patch(facecolor=C_INV, edgecolor="none"),
             Patch(facecolor=C_TRA, edgecolor="none"), Patch(facecolor=C_DUP, edgecolor="none")]
leg2 = fig.legend(a_handles, ["Syntenic", "Inversion", "Translocation", "Duplication"],
                  title="Annotations", ncol=2, loc="upper left", bbox_to_anchor=(fx(665), fy(3)),
                  frameon=False, fontsize=21, title_fontproperties={"weight": "bold", "size": 20},
                  alignment="left", handlelength=1.95, handleheight=0.72, handletextpad=0.41,
                  labelspacing=0.5, columnspacing=0.95, borderpad=0, borderaxespad=0)

fig.savefig("out.png", dpi=100)
